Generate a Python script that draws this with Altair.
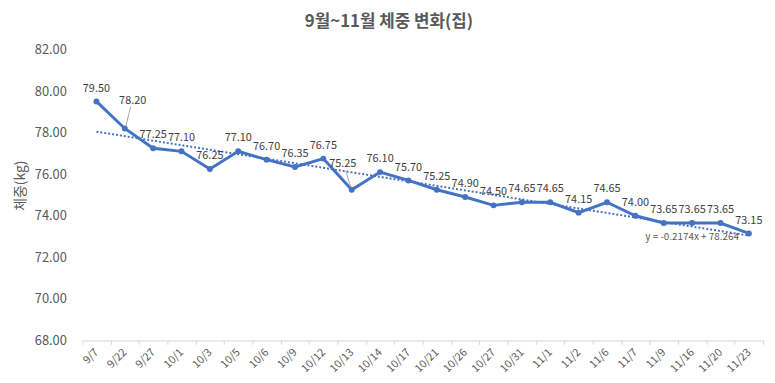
import altair as alt
import pandas as pd

# ---- data ----
dates = ["9/7", "9/22", "9/27", "10/1", "10/3", "10/5", "10/6", "10/9", "10/12",
         "10/13", "10/14", "10/17", "10/21", "10/26", "10/27", "10/31", "11/1",
         "11/2", "11/6", "11/7", "11/9", "11/16", "11/20", "11/23"]
weights = [79.50, 78.20, 77.25, 77.10, 76.25, 77.10, 76.70, 76.35, 76.75,
           75.25, 76.10, 75.70, 75.25, 74.90, 74.50, 74.65, 74.65,
           74.15, 74.65, 74.00, 73.65, 73.65, 73.65, 73.15]
trend_slope = -0.2174
trend_intercept = 78.264
trend_label = "y = -0.2174x + 78.264"
y_ticks = [68, 70, 72, 74, 76, 78, 80, 82]
title_text = "9월~11월 체중 변화(집)"
y_title = "체중(kg)"

FONT = "Noto Sans CJK KR"
BLUE = "#4472C4"
GRAY = "#595959"

df = pd.DataFrame({"date": dates, "weight": weights})
df["label"] = df["weight"].map(lambda v: f"{v:.2f}")

n = len(dates)
trend_df = pd.DataFrame({
    "date": [dates[0], dates[-1]],
    "weight": [trend_intercept + trend_slope * 1, trend_intercept + trend_slope * n],
})
eq_df = pd.DataFrame({"date": [dates[-1]],
                      "weight": [trend_intercept + trend_slope * n],
                      "label": [trend_label]})

x_enc = alt.X("date:N", sort=dates, bandPosition=0.5,
              scale=alt.Scale(type="band", domain=dates, paddingInner=0, paddingOuter=0),
              axis=alt.Axis(title=None, labelAngle=315, labelAlign="right",
                            labelBaseline="middle", labelFontSize=11, labelColor=GRAY,
                            labelFont=FONT, labelPadding=6, tickBand="extent",
                            tickSize=4, tickColor="#D9D9D9", domainColor="#D9D9D9",
                            grid=False, labelOverlap=False))
y_scale = alt.Scale(domain=[68, 82], nice=False, zero=False)
y_enc = alt.Y("weight:Q", scale=y_scale,
              axis=alt.Axis(values=y_ticks, format=".2f", grid=False, domain=False,
                            ticks=False, labelFontSize=13, labelColor=GRAY, labelFont=FONT,
                            labelPadding=16, title=y_title, titleFontSize=14,
                            titleColor=GRAY, titleFont=FONT, titleFontWeight="normal",
                            titleAngle=270, titleAlign="center", titleBaseline="middle",
                            titleX=-62, titleY=137))

base = alt.Chart(df)
xp = alt.X("date:N", sort=dates, bandPosition=0.5)

trend = alt.Chart(trend_df).mark_line(color=BLUE, strokeWidth=2, strokeDash=[2, 2]).encode(
    x=xp, y=alt.Y("weight:Q"))

line = base.mark_line(color=BLUE, strokeWidth=3).encode(x=x_enc, y=y_enc)
pts = base.mark_circle(color=BLUE, size=36, opacity=1).encode(x=xp, y="weight:Q")

lab_kw = dict(fontSize=11, color="#404040", font=FONT, baseline="middle", align="center")
labels = base.transform_filter(
    (alt.datum.date != "9/22") & (alt.datum.date != "10/13")
).mark_text(dy=-13, **lab_kw).encode(x=xp, y="weight:Q", text="label:N")

lab1 = base.transform_filter(alt.datum.date == "9/22").mark_text(dx=8, dy=-28, **lab_kw).encode(
    x=xp, y="weight:Q", text="label:N")
lab2 = base.transform_filter(alt.datum.date == "10/13").mark_text(dx=-9, dy=-26, **lab_kw).encode(
    x=xp, y="weight:Q", text="label:N")

lead1 = base.transform_filter(alt.datum.date == "9/22").mark_rule(
    color="#A6A6A6", strokeWidth=1, xOffset=1, yOffset=-2, x2Offset=6, y2Offset=-22).encode(
    x=xp, x2="date:N", y="weight:Q", y2="weight:Q")
lead2 = base.transform_filter(alt.datum.date == "10/13").mark_rule(
    color="#A6A6A6", strokeWidth=1, xOffset=-1, yOffset=-3, x2Offset=-6, y2Offset=-19).encode(
    x=xp, x2="date:N", y="weight:Q", y2="weight:Q")

eq = alt.Chart(eq_df).mark_text(fontSize=10, color=GRAY, font=FONT, align="right",
                                baseline="middle", dx=-10, dy=1).encode(
    x=xp, y="weight:Q", text="label:N")

chart = alt.layer(line, trend, pts, labels, lab1, lab2, lead1, lead2, eq).properties(
    width=688, height=294,
    autosize=alt.AutoSizeParams(type="none"),
    padding={"left": 75, "top": 40, "right": 4, "bottom": 33},
    title=alt.TitleParams(title_text, fontSize=17, fontWeight="bold", color=GRAY, font=FONT,
                          anchor="middle", dx=-34, offset=5, baseline="middle"),
).configure_view(stroke=None)

chart.save("out.html", embed_options={"renderer": "svg", "actions": False})
